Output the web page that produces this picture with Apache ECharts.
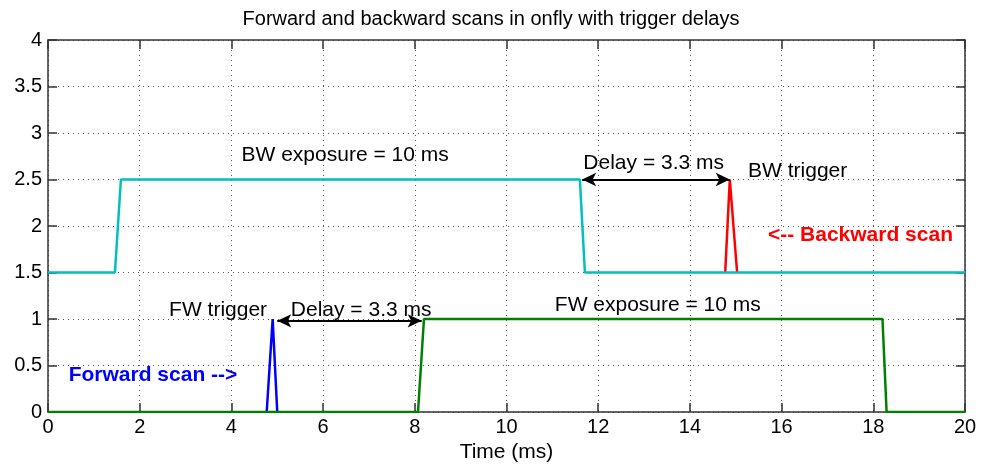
<!DOCTYPE html>
<html>
<head>
<meta charset="utf-8">
<script src="https://cdn.jsdelivr.net/npm/echarts@6/dist/echarts.min.js"></script>
<style>
  html, body { margin: 0; padding: 0; background: #fff; }
  #chart { width: 984px; height: 465px; }
</style>
</head>
<body>
<div id="chart"></div>
<script>
// Signal traces (time in ms, level)
const bwExposure = [[0, 1.5], [1.46, 1.5], [1.59, 2.5], [11.6, 2.5], [11.71, 1.5], [20, 1.5]];
const bwTrigger = [[14.77, 1.5], [14.87, 2.5], [15.03, 1.5]];
const fwTrigger = [[4.77, 0], [4.9, 1], [5.0, 0]];
const fwExposure = [[0, 0], [8.07, 0], [8.2, 1], [18.2, 1], [18.29, 0], [20, 0]];

// Delay arrows: [start, end]
const bwDelay = [[11.65, 2.5], [14.87, 2.5]];
const fwDelay = [[5.0, 0.98], [8.15, 0.98]];

// Text annotations: [x, y, text]
const blackNotes = [
  [6.48, 2.76, 'BW exposure = 10 ms'],
  [13.21, 2.68, 'Delay = 3.3 ms'],
  [16.35, 2.59, 'BW trigger'],
  [3.71, 1.09, 'FW trigger'],
  [6.83, 1.09, 'Delay = 3.3 ms'],
  [13.3, 1.15, 'FW exposure = 10 ms']
];
const redNotes = [[17.72, 1.9, '<-- Backward scan']];
const blueNotes = [[2.29, 0.4, 'Forward scan -->']];

const xTicks = { min: 0, max: 20, interval: 2 };
const yTicks = { min: 0, max: 4, interval: 0.5 };

const FONT = 'Liberation Sans, Arial, sans-serif';
const chart = echarts.init(document.getElementById('chart'), null, { renderer: 'canvas' });

const gridLine = { show: true, lineStyle: { color: '#555', type: [1, 4], width: 1 } };
const tickIn = { show: true, inside: true, length: 9, lineStyle: { color: '#333', width: 1.5 } };
const axisLn = { show: true, onZero: false, lineStyle: { color: '#333', width: 1.5 } };

function noteSeries(data, color, bold) {
  return {
    type: 'scatter',
    data: data.map(d => ({ value: [d[0], d[1]], name: d[2] })),
    symbolSize: 0,
    silent: true,
    z: 10,
    itemStyle: { opacity: 1 },
    label: {
      show: true,
      position: 'inside',
      formatter: p => p.name,
      color: color,
      opacity: 1,
      fontFamily: FONT,
      fontSize: 21,
      fontWeight: bold ? 'bold' : 'normal'
    }
  };
}

function arrow(pair) {
  return {
    type: 'line',
    data: [],
    markLine: {
      silent: true,
      symbol: ['arrow', 'arrow'],
      symbolSize: [10, 14],
      label: { show: false },
      lineStyle: { color: '#000', width: 2, type: 'solid' },
      data: [[{ coord: pair[0] }, { coord: pair[1] }]]
    }
  };
}

chart.setOption({
  animation: false,
  backgroundColor: '#fff',
  title: {
    text: 'Forward and backward scans in onfly with trigger delays',
    left: 486, top: 4, textAlign: 'center',
    textStyle: { fontFamily: FONT, fontSize: 20, fontWeight: 'normal', color: '#000' }
  },
  grid: { left: 48, right: 19, top: 40, bottom: 53, containLabel: false, outerBoundsMode: 'none' },
  xAxis: [
    {
      type: 'value', min: xTicks.min, max: xTicks.max, interval: xTicks.interval,
      name: 'Time (ms)', nameLocation: 'middle', nameGap: 29,
      nameTextStyle: { fontFamily: FONT, fontSize: 21, color: '#000' },
      axisLine: axisLn, axisTick: tickIn, splitLine: gridLine,
      axisLabel: { fontFamily: FONT, fontSize: 20, color: '#000', margin: 5 }
    },
    {
      type: 'value', position: 'top', min: xTicks.min, max: xTicks.max, interval: xTicks.interval,
      axisLine: axisLn, axisTick: tickIn, splitLine: { show: false }, axisLabel: { show: false }
    }
  ],
  yAxis: [
    {
      type: 'value', min: yTicks.min, max: yTicks.max, interval: yTicks.interval,
      axisLine: axisLn, axisTick: tickIn, splitLine: gridLine,
      axisLabel: { fontFamily: FONT, fontSize: 20, color: '#000', margin: 6 }
    },
    {
      type: 'value', position: 'right', min: yTicks.min, max: yTicks.max, interval: yTicks.interval,
      axisLine: axisLn, axisTick: tickIn, splitLine: { show: false }, axisLabel: { show: false }
    }
  ],
  series: [
    { type: 'line', data: bwTrigger, showSymbol: false, lineStyle: { color: '#ff0000', width: 2.5 }, z: 3 },
    { type: 'line', data: bwExposure, showSymbol: false, lineStyle: { color: '#00bfbf', width: 2.5 }, z: 4 },
    { type: 'line', data: fwTrigger, showSymbol: false, lineStyle: { color: '#0000ff', width: 2.5 }, z: 3 },
    { type: 'line', data: fwExposure, showSymbol: false, lineStyle: { color: '#008000', width: 2.5 }, z: 4 },
    arrow(bwDelay),
    arrow(fwDelay),
    noteSeries(blackNotes, '#000', false),
    noteSeries(redNotes, '#ff0000', true),
    noteSeries(blueNotes, '#0000ff', true)
  ]
});
</script>
</body>
</html>
